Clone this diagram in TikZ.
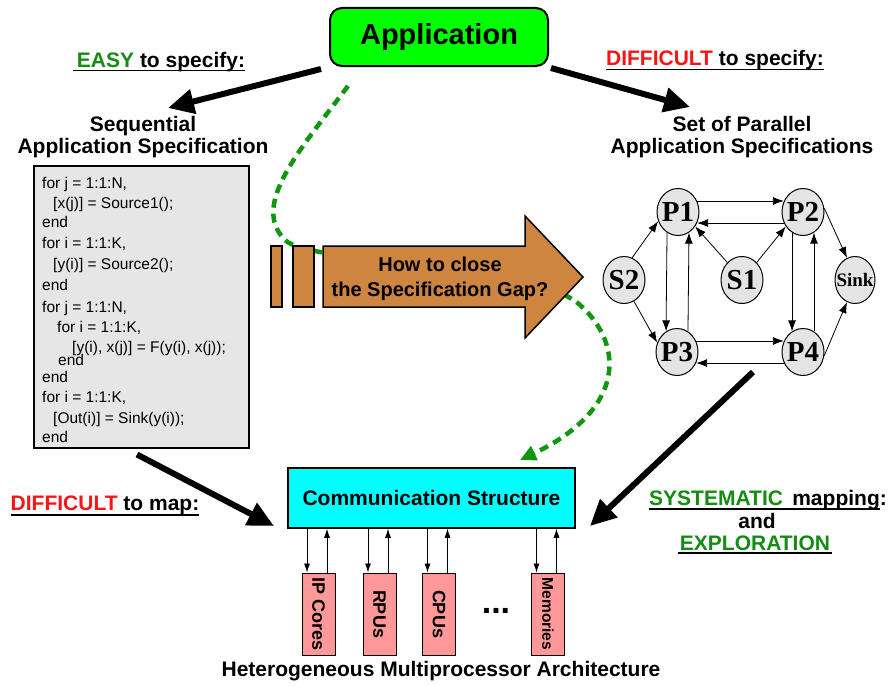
\documentclass[tikz,border=0pt]{standalone}
\usepackage{fontspec}
\usepackage{graphicx}
\setmainfont{Liberation Sans}
\newfontfamily\graphfont{Liberation Serif}
\usetikzlibrary{arrows.meta,shapes.geometric,calc}
\definecolor{appgreen}{RGB}{0,255,0}
\definecolor{okgreen}{RGB}{20,140,20}
\definecolor{badred}{RGB}{250,20,20}
\definecolor{dashgreen}{RGB}{16,150,16}
\definecolor{gapbrown}{RGB}{205,133,63}
\definecolor{codegray}{RGB}{230,230,230}
\definecolor{nodegray}{RGB}{228,228,228}
\definecolor{unitpink}{RGB}{255,153,153}
\definecolor{commcyan}{RGB}{0,255,255}
\begin{document}
\begin{tikzpicture}[x=1pt,y=-1pt,
  lbl/.style={font=\fontsize{21}{22}\selectfont\bfseries, inner sep=0pt, align=center},
  code/.style={font=\fontsize{15.5}{18}\selectfont, inner sep=0pt, anchor=base west},
  bigarrow/.style={line width=6pt, -{Triangle[length=26pt,width=24pt]}},
  uline/.style={line width=1.2pt},
  gnode/.style={ellipse, draw, line width=1pt, fill=nodegray, minimum width=42pt,
    minimum height=47pt, inner sep=0pt, font=\graphfont\fontsize{29}{29}\selectfont\bfseries},
  gedge/.style={line width=0.8pt, -{Latex[length=11pt,width=8pt]}},
  unit/.style={draw, line width=1pt, fill=unitpink, minimum width=33pt, minimum height=82pt,
    inner sep=0pt, font=\fontsize{18}{18}\selectfont\bfseries},
  ioarrow/.style={line width=0.8pt, -{Latex[length=9pt,width=6pt]}},
  gapfill/.style={draw, line width=1.5pt, fill=gapbrown},
]
\useasboundingbox (0,0) rectangle (890,685);

% ---- green dashed path (drawn first, passes under the gap arrow) ----
\coordinate (dstart) at (348,86);
\coordinate (dend) at (520,460);
\draw[dashgreen, line width=4.5pt, dash pattern=on 9pt off 6pt,
      -{Triangle[length=16pt,width=15pt]}]
  (dstart) .. controls (300,150) and (250,205) .. (285,240)
           .. controls (310,265) and (530,260) .. (580,305)
           .. controls (625,345) and (625,410) .. (dend);

% ---- application ----
\node[draw, line width=2pt, rounded corners=12pt, fill=appgreen, minimum width=218pt,
      minimum height=58pt, font=\fontsize{29}{29}\selectfont\bfseries] (app) at (439,37) {Application};

% ---- headings ----
\node[lbl, anchor=base] (easy) at (161,67) {\textcolor{okgreen}{EASY} to specify:};
\draw[uline] ($(easy.base west)+(-4,3.5)$) -- ($(easy.base east)+(0,3.5)$);
\node[lbl, anchor=base] (diffspec) at (715,66) {\textcolor{badred}{DIFFICULT} to specify:};
\draw[uline] ($(diffspec.base west)+(0,3.5)$) -- ($(diffspec.base east)+(0,3.5)$);

\node[lbl] (seq) at (143,137) {Sequential\\Application Specification};
\node[lbl] (par) at (742,137) {Set of Parallel\\Application Specifications};

\coordinate (seqtip) at (168,108);
\coordinate (partip) at (690,107);
\draw[bigarrow] ($(app.south west)+(-8,2)$) -- (seqtip);
\draw[bigarrow] ($(app.south east)+(2,1)$) -- (partip);

% ---- sequential code ----
\node[draw, line width=1.5pt, fill=codegray, minimum width=215pt, minimum height=282pt,
      anchor=north west, inner sep=0pt] (codebox) at (33,165) {};
\node[code] (c1) at (42,188) {for j = 1:1:N,};
\node[code] (c2) at (53,208) {[x(j)] = Source1();};
\node[code] (c3) at (42,227) {end};
\node[code] (c4) at (42,248) {for i = 1:1:K,};
\node[code] (c5) at (53,269) {[y(i)] = Source2();};
\node[code] (c6) at (42,290) {end};
\node[code] (c7) at (42,312) {for j = 1:1:N,};
\node[code] (c8) at (57,332) {for i = 1:1:K,};
\node[code] (c9) at (72,352) {[y(i), x(j)] = F(y(i), x(j));};
\node[code] (c10) at (58,365) {end};
\node[code] (c11) at (42,382) {end};
\node[code] (c12) at (42,402) {for i = 1:1:K,};
\node[code] (c13) at (53,423) {[Out(i)] = Sink(y(i));};
\node[code] (c14) at (42,442) {end};

% ---- specification gap arrow ----
\draw[gapfill] (271,246) rectangle (282,307);
\draw[gapfill] (293,246) rectangle (314,307);
\draw[gapfill] (323,246) -- (525,246) -- (525,216) -- (583,277) -- (525,338)
  -- (525,307) -- (323,307) -- cycle;
\node[font=\fontsize{20}{25}\selectfont\bfseries, align=center, inner sep=0pt]
  (gap) at (440,279) {How to close\\the Specification Gap?};

% ---- process network ----
\node[gnode] (P1) at (678,212) {\makebox[0pt]{P1}};
\node[gnode] (P2) at (803,212) {\makebox[0pt]{P2}};
\node[gnode] (S2) at (624,280) {\makebox[0pt]{S2}};
\node[gnode] (S1) at (742,280) {\makebox[0pt]{S1}};
\node[gnode, minimum width=40pt, font=\graphfont\fontsize{19}{19}\selectfont\bfseries]
  (sink) at (855,280) {\makebox[0pt]{Sink}};
\node[gnode] (P3) at (677,352) {\makebox[0pt]{P3}};
\node[gnode] (P4) at (803,352) {\makebox[0pt]{P4}};

\draw[gedge] (S2.70) -- (P1.205);
\draw[gedge] (S2.-65) -- (P3.155);
\draw[gedge] (S1.130) -- (P1.-40);
\draw[gedge] (S1.50) -- (P2.220);
\draw[gedge] (P1.30) -- (P2.150);
\draw[gedge] (P2.210) -- (P1.-30);
\draw[gedge] (P1.242) -- (P3.118);
\draw[gedge] (P3.62) -- (P1.-62);
\draw[gedge] (P2.242) -- (P4.118);
\draw[gedge] (P4.62) -- (P2.-62);
\draw[gedge] (P3.30) -- (P4.150);
\draw[gedge] (P4.210) -- (P3.-30);
\draw[gedge] (P2.10) -- (sink.110);
\draw[gedge] (P4.-10) -- (sink.250);

% ---- architecture ----
\node[draw, line width=1.5pt, fill=commcyan, minimum width=287pt, minimum height=60pt,
      font=\fontsize{21}{21}\selectfont\bfseries] (comm) at (431.5,498) {Communication Structure};

\node[unit] (ip) at (318.5,614) {\rotatebox{-90}{IP Cores}};
\node[unit] (rpu) at (379.5,614) {\rotatebox{-90}{RPUs}};
\node[unit] (cpu) at (439,614) {\rotatebox{-90}{CPUs}};
\node[unit, font=\fontsize{15.5}{16}\selectfont\bfseries] (mem) at (548,614) {\rotatebox{-90}{Memories}};
\node[font=\fontsize{34}{34}\selectfont\bfseries, inner sep=0pt] (dots) at (496,611) {...};

\foreach \u in {ip,rpu,cpu,mem} {
  \coordinate (\u-d) at ($(\u.north)+(-11.5,0)$);
  \coordinate (\u-u) at ($(\u.north)+(8.5,0)$);
  \draw[ioarrow] (\u-d |- comm.south) -- (\u-d);
  \draw[ioarrow] (\u-u) -- (\u-u |- comm.south);
}

\node[lbl, anchor=base] (hetero) at (441,676) {Heterogeneous Multiprocessor Architecture};

% ---- mapping ----
\coordinate (lefttip) at (274,526);
\coordinate (righttip) at (590,526);
\draw[bigarrow] ($(codebox.south west)+(104,6)$) -- (lefttip);
\draw[bigarrow] ($(P4.center)+(-50,20)$) -- (righttip);

\node[lbl, anchor=base] (diffmap) at (105,510) {\textcolor{badred}{DIFFICULT} to map:};
\draw[uline] ($(diffmap.base west)+(0,5)$) -- ($(diffmap.base east)+(0,5)$);

\node[lbl, anchor=base west] (sys1) at (649,505) {\textcolor{okgreen}{SYSTEMATIC}\, mapping\rlap{:}};
\draw[uline] ($(sys1.base west)+(0,4)$) -- ($(sys1.base east)+(0,4)$);
\node[lbl, anchor=base] (sys2) at (757,528) {and};
\node[lbl, anchor=base] (sys3) at (755,550) {\textcolor{okgreen}{EXPLORATION}};
\draw[uline] ($(sys3.base west)+(-2,3)$) -- ($(sys3.base east)+(2,3)$);
\end{tikzpicture}
\end{document}
